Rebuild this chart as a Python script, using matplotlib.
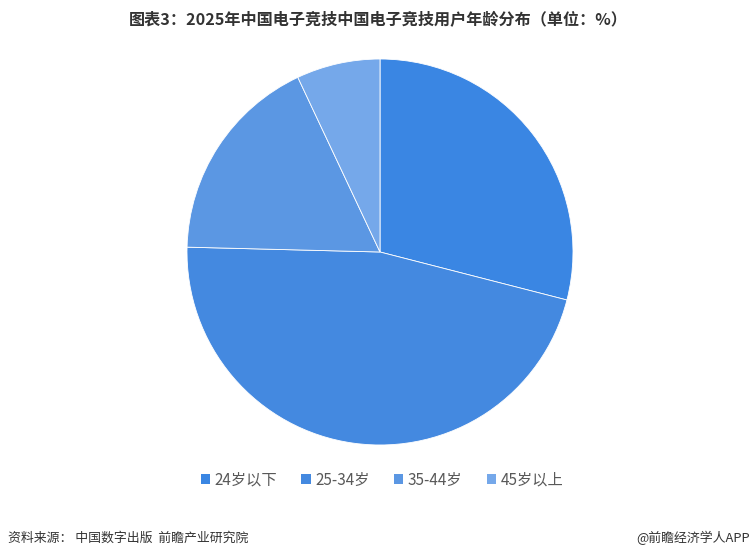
import matplotlib
matplotlib.use("Agg")
import matplotlib.pyplot as plt
from matplotlib.patches import Rectangle

plt.rcParams['font.family'] = ['Noto Sans CJK SC', 'DejaVu Sans']

labels = ['24岁以下', '25-34岁', '35-44岁', '45岁以上']
values = [29.0, 46.4, 17.6, 7.0]
colors = ['#3A86E3', '#4489E0', '#5B97E3', '#75A8EA']

W, H = 755, 560
fig = plt.figure(figsize=(W / 100, H / 100), dpi=100)
fig.patch.set_facecolor('white')

cx, cy, r = 380, 252, 193
ax = fig.add_axes([(cx - r) / W, (H - cy - r) / H, 2 * r / W, 2 * r / H])
ax.pie(values, colors=colors, startangle=90, counterclock=False, radius=1,
       wedgeprops=dict(edgecolor='white', linewidth=0.6))
ax.set_xlim(-1, 1)
ax.set_ylim(-1, 1)
ax.set_aspect('equal')
ax.axis('off')

fig.text(378 / W, 1 - 20 / H, '图表3：2025年中国电子竞技中国电子竞技用户年龄分布（单位：%）',
         ha='center', va='center', fontsize=11.6, fontweight='bold', color='#333333')

handles = [Rectangle((0, 0), 1, 1, facecolor=c, edgecolor='none') for c in colors]
fig.legend(handles, labels, ncol=4, loc='center', bbox_to_anchor=(382 / W, 1 - 480 / H),
           frameon=False, fontsize=11, handlelength=0.6, handleheight=0.6,
           handletextpad=0.3, columnspacing=1.6, labelcolor='#595959')

fig.text(8 / W, 1 - 538 / H, '资料来源： 中国数字出版  前瞻产业研究院', ha='left', va='center',
         fontsize=9.3, color='#333333')
fig.text(750 / W, 1 - 538 / H, '@前瞻经济学人APP', ha='right', va='center',
         fontsize=9.3, color='#333333')

fig.savefig('out.png', dpi=100, facecolor='white')
